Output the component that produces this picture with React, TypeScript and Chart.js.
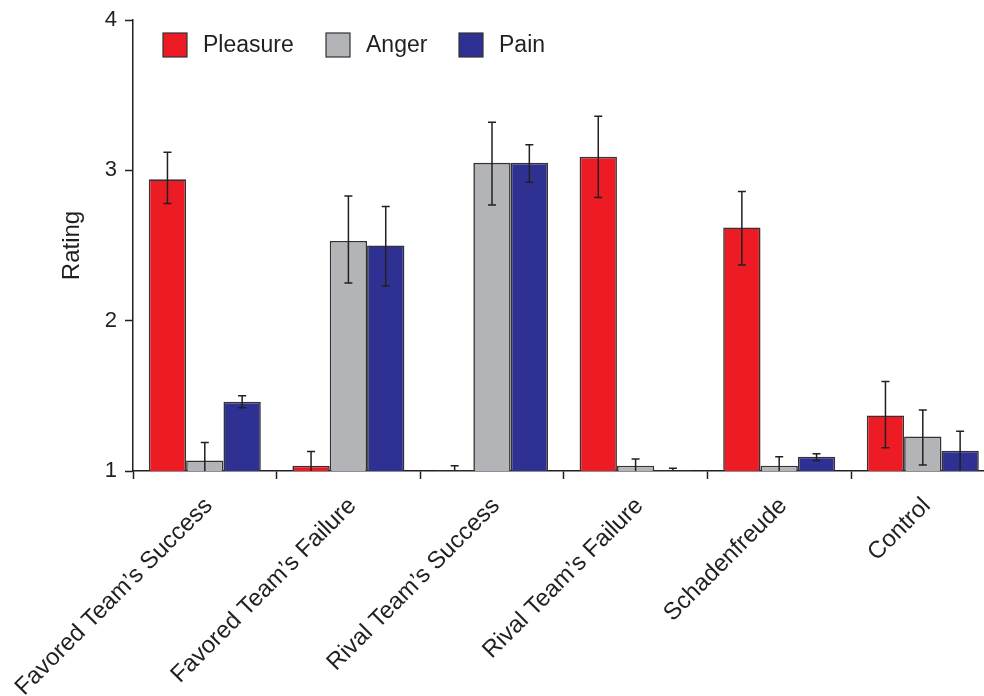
import React, { useEffect, useRef } from "react";
import { Chart, registerables } from "chart.js";

Chart.register(...registerables);

const categories = [
  "Favored Team’s Success",
  "Favored Team’s Failure",
  "Rival Team’s Success",
  "Rival Team’s Failure",
  "Schadenfreude",
  "Control",
];
const seriesNames = ["Pleasure", "Anger", "Pain"];
const pleasure = [2.94, 1.035, 1.005, 3.09, 2.62, 1.37];
const anger = [1.07, 2.53, 3.05, 1.035, 1.035, 1.23];
const pain = [1.46, 2.5, 3.05, 1.005, 1.095, 1.135];
const pleasureLow = [2.78, 1.0, 1.0, 2.82, 2.37, 1.155];
const pleasureHigh = [3.12, 1.13, 1.035, 3.36, 2.86, 1.595];
const angerLow = [1.0, 2.25, 2.77, 1.0, 1.0, 1.04];
const angerHigh = [1.19, 2.83, 3.32, 1.08, 1.095, 1.405];
const painLow = [1.42, 2.23, 2.92, 1.0, 1.07, 1.0];
const painHigh = [1.5, 2.76, 3.17, 1.018, 1.115, 1.265];
const yTicks = [1, 2, 3, 4];

const colors = ["#ED1C24", "#B3B4B7", "#2E3192"];
const ink = "#231f20";
const fontFamily = "'Liberation Sans', Arial, Helvetica, sans-serif";

const errLows = [pleasureLow, angerLow, painLow];
const errHighs = [pleasureHigh, angerHigh, painHigh];

const errorBarPlugin = {
  id: "errorBars",
  afterDatasetsDraw(chart: any) {
    const ctx = chart.ctx;
    const yScale = chart.scales.y;
    ctx.save();
    ctx.strokeStyle = ink;
    ctx.lineWidth = 1.5;
    chart.data.datasets.forEach((_ds: any, di: number) => {
      const meta = chart.getDatasetMeta(di);
      meta.data.forEach((el: any, i: number) => {
        const x = el.x;
        const yl = yScale.getPixelForValue(errLows[di][i]);
        const yh = yScale.getPixelForValue(errHighs[di][i]);
        ctx.beginPath();
        ctx.moveTo(x, yl);
        ctx.lineTo(x, yh);
        ctx.moveTo(x - 4, yh);
        ctx.lineTo(x + 4, yh);
        if (errLows[di][i] > 1.001) {
          ctx.moveTo(x - 4, yl);
          ctx.lineTo(x + 4, yl);
        }
        ctx.stroke();
      });
    });
    ctx.restore();
  },
};

const legendPlugin = {
  id: "customLegend",
  afterDraw(chart: any) {
    const ctx = chart.ctx;
    const left = chart.chartArea.left;
    const boxX = [30, 193, 326];
    ctx.save();
    ctx.font = `23px ${fontFamily}`;
    ctx.textBaseline = "middle";
    ctx.textAlign = "left";
    seriesNames.forEach((name, i) => {
      const bx = left + boxX[i];
      ctx.fillStyle = colors[i];
      ctx.fillRect(bx, 33, 24, 24);
      ctx.strokeStyle = "#333";
      ctx.lineWidth = 1.2;
      ctx.strokeRect(bx, 33, 24, 24);
      ctx.fillStyle = ink;
      ctx.fillText(name, bx + 40, 46);
    });
    ctx.restore();
  },
};

export default function App() {
  const ref = useRef<HTMLCanvasElement>(null);
  useEffect(() => {
    if (!ref.current) return;
    const values = [pleasure, anger, pain];
    const chart = new Chart(ref.current, {
      type: "bar",
      data: {
        labels: categories,
        datasets: seriesNames.map((name, i) => ({
          label: name,
          data: values[i],
          backgroundColor: colors[i],
          borderColor: "#333",
          borderWidth: 1.6,
          barPercentage: 1,
          categoryPercentage: 0.78,
        })),
      },
      options: {
        responsive: false,
        animation: false,
        layout: { padding: { top: 20, right: 5.4, left: 0, bottom: 0 } },
        plugins: {
          legend: { display: false },
          tooltip: { enabled: false },
        },
        scales: {
          x: {
            type: "category",
            offset: true,
            grid: {
              offset: true,
              drawOnChartArea: false,
              drawTicks: true,
              tickLength: 8,
              tickColor: ink,
              tickWidth: 1.5,
            },
            border: { display: true, color: ink, width: 1.5 },
            ticks: {
              autoSkip: false,
              maxRotation: 45,
              minRotation: 45,
              padding: 13,
              labelOffset: 4,
              color: ink,
              font: { family: fontFamily, size: 24 },
            },
            afterFit(scale: any) {
              scale.height = 225;
              scale.paddingLeft = 0;
              scale.paddingRight = 0;
            },
          },
          y: {
            min: 1,
            max: 4,
            afterBuildTicks(scale: any) {
              scale.ticks = yTicks.map((v) => ({ value: v }));
            },
            grid: {
              drawOnChartArea: false,
              drawTicks: true,
              tickLength: 8,
              tickColor: ink,
              tickWidth: 1.5,
            },
            border: { display: true, color: ink, width: 1.5 },
            ticks: {
              padding: 8,
              color: ink,
              font: { family: fontFamily, size: 22 },
            },
            title: {
              display: true,
              text: "Rating",
              color: ink,
              font: { family: fontFamily, size: 24 },
              padding: { top: 58, bottom: 0 },
            },
            afterFit(scale: any) {
              scale.width = 133;
              scale.paddingTop = 0;
              scale.paddingBottom = 0;
            },
          },
        },
      },
      plugins: [errorBarPlugin, legendPlugin],
    });
    return () => chart.destroy();
  }, []);

  return (
    <div
      style={{
        position: "fixed",
        left: 0,
        top: 0,
        width: 984,
        height: 696,
        overflow: "hidden",
        background: "#fff",
      }}
    >
      <canvas ref={ref} width={1000} height={696} style={{ display: "block" }} />
    </div>
  );
}
